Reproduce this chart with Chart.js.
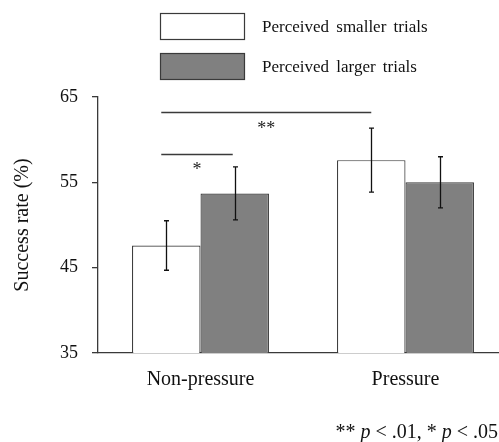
<!DOCTYPE html>
<html>
<head>
<meta charset="utf-8">
<script src="https://cdn.jsdelivr.net/npm/chart.js@4.4.1/dist/chart.umd.min.js"></script>
<style>
  html, body { margin: 0; padding: 0; background: #fff; overflow: hidden; }
  #wrap { width: 510px; height: 442px; }
</style>
</head>
<body>
<div id="wrap"><canvas id="rateChart" width="510" height="442"></canvas></div>
<script>
// data
const categories = ['Non-pressure', 'Pressure'];
const seriesLabels = ['Perceived smaller trials', 'Perceived larger trials'];
const smallerMeans = [47.6, 57.6];
const largerMeans = [53.7, 55.0];
const smallerErr = [2.9, 3.75];
const largerErr = [3.1, 3.0];
const yTicks = [35, 45, 55, 65];
// significance brackets: [dataset, category] pairs at both ends, bracket height, label height
const brackets = [
    { from: [0, 0], to: [0, 1], y: 63.2, labelY: 61.7, label: '**' },
    { from: [0, 0], to: [1, 0], y: 58.3, labelY: 56.9, label: '*' }
];
const footnote = [['** ', false], ['p', true], [' < .01, * ', false], ['p', true], [' < .05', false]];

const serif = '"Liberation Serif", "Times New Roman", serif';
const lineCol = '#3a3a3a';

const errorBars = {
    id: 'errorBars',
    afterDatasetsDraw(chart) {
        const ctx = chart.ctx;
        const y = chart.scales.y;
        const errs = [smallerErr, largerErr];
        ctx.save();
        ctx.strokeStyle = '#111';
        ctx.lineWidth = 1.3;
        chart.data.datasets.forEach((ds, i) => {
            chart.getDatasetMeta(i).data.forEach((bar, j) => {
                const v = ds.data[j];
                const top = y.getPixelForValue(v + errs[i][j]);
                const bot = y.getPixelForValue(v - errs[i][j]);
                const x = Math.round(bar.x) + 0.5;
                ctx.beginPath();
                ctx.moveTo(x, top); ctx.lineTo(x, bot);
                ctx.moveTo(x - 2.5, top); ctx.lineTo(x + 2.5, top);
                ctx.moveTo(x - 2.5, bot); ctx.lineTo(x + 2.5, bot);
                ctx.stroke();
            });
        });
        ctx.restore();
    }
};

const annotations = {
    id: 'annotations',
    afterDraw(chart) {
        const ctx = chart.ctx;
        const y = chart.scales.y;
        ctx.save();

        // significance brackets
        ctx.strokeStyle = lineCol;
        ctx.lineWidth = 1.3;
        ctx.fillStyle = '#222';
        ctx.font = '18px ' + serif;
        ctx.textAlign = 'center';
        ctx.textBaseline = 'alphabetic';
        brackets.forEach(b => {
            const x1 = chart.getDatasetMeta(b.from[0]).data[b.from[1]].x - 5;
            const x2 = chart.getDatasetMeta(b.to[0]).data[b.to[1]].x - (b.label === '*' ? 2 : 0);
            const py = Math.round(y.getPixelForValue(b.y)) + 0.5;
            ctx.beginPath();
            ctx.moveTo(x1, py); ctx.lineTo(x2, py);
            ctx.stroke();
            ctx.fillText(b.label, (x1 + x2) / 2, y.getPixelForValue(b.labelY) + 9);
        });

        // legend
        const fills = chart.data.datasets.map(d => d.backgroundColor);
        ctx.lineWidth = 1.2;
        ctx.textAlign = 'left';
        ctx.textBaseline = 'middle';
        ctx.font = '17px ' + serif;
        ctx.wordSpacing = '3px';
        seriesLabels.forEach((lab, i) => {
            const top = 13.5 + i * 40;
            ctx.fillStyle = fills[i];
            ctx.fillRect(160.5, top, 84, 26);
            ctx.strokeStyle = lineCol;
            ctx.strokeRect(160.5, top, 84, 26);
            ctx.fillStyle = '#111';
            ctx.fillText(lab, 262, top + 14);
        });
        ctx.wordSpacing = '0px';

        // footnote
        ctx.textBaseline = 'alphabetic';
        let widths = footnote.map(([t, it]) => {
            ctx.font = (it ? 'italic ' : '') + '20px ' + serif;
            return ctx.measureText(t).width;
        });
        let x = 498 - widths.reduce((a, b) => a + b, 0);
        footnote.forEach(([t, it], k) => {
            ctx.font = (it ? 'italic ' : '') + '20px ' + serif;
            ctx.fillText(t, x, 438);
            x += widths[k];
        });
        ctx.restore();
    }
};

new Chart(document.getElementById('rateChart'), {
    type: 'bar',
    data: {
        labels: categories,
        datasets: [{
            label: seriesLabels[0],
            data: smallerMeans,
            backgroundColor: '#ffffff',
            borderColor: lineCol,
            borderWidth: 1.2
        }, {
            label: seriesLabels[1],
            data: largerMeans,
            backgroundColor: '#808080',
            borderColor: lineCol,
            borderWidth: 1.2
        }]
    },
    options: {
        responsive: false,
        devicePixelRatio: 1,
        animation: false,
        categoryPercentage: 0.668,
        barPercentage: 1,
        layout: { padding: { top: 97, right: 2, bottom: 0, left: 0 } },
        plugins: {
            legend: { display: false },
            tooltip: { enabled: false }
        },
        scales: {
            x: {
                grid: { display: false, drawTicks: false },
                border: { display: true, color: lineCol, width: 1.3 },
                ticks: { color: '#111', padding: 15, font: { family: serif, size: 20 } },
                afterFit(scale) {
                    scale.height = 89;
                    scale.paddingLeft = 0;
                    scale.paddingRight = 0;
                }
            },
            y: {
                min: 35,
                max: 65,
                afterBuildTicks(scale) {
                    scale.ticks = yTicks.map(v => ({ value: v }));
                },
                grid: { drawOnChartArea: false, drawTicks: true, tickLength: 6, color: lineCol, lineWidth: 1.3 },
                border: { display: true, color: lineCol, width: 1.3 },
                ticks: { color: '#111', padding: 14, font: { family: serif, size: 18 } },
                title: {
                    display: true,
                    text: 'Success rate (%)',
                    color: '#111',
                    padding: { top: 11 },
                    font: { family: serif, size: 20 }
                },
                afterFit(scale) {
                    scale.width = 98;
                    scale.paddingTop = 0;
                    scale.paddingBottom = 0;
                }
            }
        }
    },
    plugins: [errorBars, annotations]
});
</script>
</body>
</html>
